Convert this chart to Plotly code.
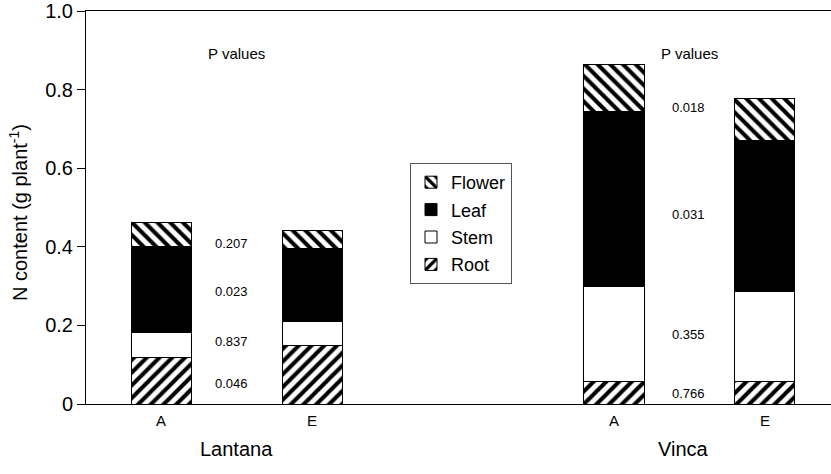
import plotly.graph_objects as go

# Data
species = ["Lantana", "Lantana", "Vinca", "Vinca"]
treatments = ["A", "E", "A", "E"]
positions = [0, 1, 3, 4]
root = [0.118, 0.148, 0.057, 0.057]
stem = [0.063, 0.061, 0.243, 0.230]
leaf = [0.219, 0.187, 0.444, 0.383]
flower = [0.061, 0.045, 0.119, 0.108]
p_lantana = ["0.046", "0.837", "0.023", "0.207"]  # root, stem, leaf, flower
p_vinca = ["0.766", "0.355", "0.031", "0.018"]
p_y_lantana = [0.053, 0.159, 0.286, 0.409]
p_y_vinca = [0.027, 0.176, 0.481, 0.755]
yticks = [0, 0.2, 0.4, 0.6, 0.8, 1.0]
yticktext = ["0", "0.2", "0.4", "0.6", "0.8", "1.0"]
groups = ["Lantana", "Vinca"]

FONT = "Liberation Sans, Arial, sans-serif"
L, T, W, H = 86, 11, 745, 393
fig = go.Figure()

def add(name, vals, color, shape, rank):
    marker = dict(color=color, line=dict(color="black", width=1))
    if shape:
        marker["pattern"] = dict(shape=shape, fgcolor="black", bgcolor="white",
                                 size=9, solidity=0.45, fillmode="replace")
    fig.add_trace(go.Bar(x=positions, y=vals, name=name, width=0.4, marker=marker,
                         legendgroup=name, legendrank=rank))

add("Root", root, "white", "/", 4)
add("Stem", stem, "white", "", 3)
add("Leaf", leaf, "black", "", 2)
add("Flower", flower, "white", "\\", 1)

def px(xpix):
    return (xpix - L) / W

def py(ypix):
    return (T + H - ypix) / H

ann = []
for t, y in zip(p_lantana, p_y_lantana):
    ann.append(dict(x=0.464, y=y, text=t, xref="x", yref="y", showarrow=False,
                    font=dict(size=13, family=FONT, color="black")))
for t, y in zip(p_vinca, p_y_vinca):
    ann.append(dict(x=3.495, y=y, text=t, xref="x", yref="y", showarrow=False,
                    font=dict(size=13, family=FONT, color="black")))
for xp in [0.5, 3.5]:
    ann.append(dict(x=xp, y=py(43), text="P values", xref="x", yref="paper", showarrow=False,
                    font=dict(size=15, family=FONT, color="black")))
for xp, t in zip(positions, treatments):
    ann.append(dict(x=xp, y=py(431), text=t, xref="x", yref="paper", showarrow=False,
                    font=dict(size=15, family=FONT, color="black")))
for xp, t in zip([0.5, 3.46], groups):
    ann.append(dict(x=xp, y=py(462), text=t, xref="x", yref="paper", showarrow=False,
                    font=dict(size=20, family=FONT, color="black")))
ann.append(dict(x=px(18), y=py(213), xref="paper", yref="paper",
                text="N content (g plant<sup>-1</sup>)", xanchor="center", yanchor="middle",
                showarrow=False, textangle=-90, font=dict(size=20, family=FONT, color="black")))

fig.update_layout(
    width=831, height=474,
    margin=dict(l=L, r=0, t=T, b=474 - T - H),
    barmode="stack",
    plot_bgcolor="white", paper_bgcolor="white",
    font=dict(family=FONT, color="black"),
    annotations=ann,
    legend=dict(x=px(410), y=py(163), xanchor="left", yanchor="top",
                traceorder="grouped", tracegroupgap=1,
                bordercolor="#555", borderwidth=1,
                font=dict(size=18, family=FONT), bgcolor="white"),
    xaxis=dict(range=[-0.5, 4.44], showticklabels=False, ticks="", showgrid=False,
               zeroline=False, showline=True, linecolor="black", linewidth=1, mirror=True),
    yaxis=dict(range=[0, 1.0], tickvals=yticks, ticktext=yticktext, ticks="outside",
               ticklen=8, tickcolor="black", showgrid=False, zeroline=False,
               showline=True, linecolor="black", linewidth=1,
               tickfont=dict(size=20, family=FONT)),
)
fig.write_html("out.html", config={"displayModeBar": False},
               post_script="document.body.style.margin='0';")
